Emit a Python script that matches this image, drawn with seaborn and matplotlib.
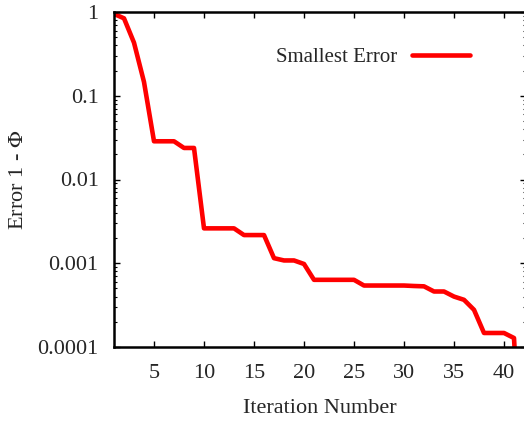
import matplotlib
matplotlib.use("Agg")
import matplotlib.pyplot as plt
import matplotlib.ticker as mticker
import seaborn as sns
import pandas as pd
import numpy as np

iterations = list(range(1, 43))
smallest_error = [0.95, 0.84, 0.43, 0.146, 0.0286, 0.0286, 0.0286, 0.0238, 0.0238,
                  0.00261, 0.00261, 0.00261, 0.00261, 0.00217, 0.00217, 0.00217,
                  0.00115, 0.00108, 0.00108, 0.00098, 0.000634, 0.000634, 0.000634,
                  0.000634, 0.000634, 0.000542, 0.000542, 0.000542, 0.000542,
                  0.000542, 0.000535, 0.00053, 0.00046, 0.00046, 0.0004, 0.000366,
                  0.000278, 0.000147, 0.000147, 0.000147, 0.000128, 0.000001]
series_name = "Smallest Error"
x_ticks = [5, 10, 15, 20, 25, 30, 35, 40]
y_ticks = [1e-4, 1e-3, 1e-2, 1e-1, 1]
y_tick_labels = ["0.0001", "0.001", "0.01", "0.1", "1"]

sns.set_theme(style="ticks")
plt.rcParams["font.family"] = ["Liberation Serif", "DejaVu Serif"]
plt.rcParams["mathtext.fontset"] = "stix"

df = pd.DataFrame({"Iteration": iterations, "Error": smallest_error, "Series": series_name})

fig = plt.figure(figsize=(5.24, 4.22), dpi=100)
W, H = 524, 422
ax = fig.add_axes([114 / W, 75 / H, (526 - 114) / W, 335 / H])

sns.lineplot(data=df, x="Iteration", y="Error", hue="Series", palette=["#ff0000"],
             linewidth=3.3, ax=ax, legend=True)
ax.set_yscale("log")
ax.set_xlim(1, 42.2)
ax.set_ylim(1e-4, 1)
ax.set_xticks(x_ticks)
ax.set_xticklabels([str(t) for t in x_ticks])
ax.set_yticks(y_ticks)
ax.set_yticklabels(y_tick_labels)
ax.yaxis.set_minor_locator(mticker.LogLocator(base=10, subs=np.arange(2, 10), numticks=20))
ax.yaxis.set_minor_formatter(mticker.NullFormatter())

for s in ax.spines.values():
    s.set_linewidth(1.8)
    s.set_color("black")
    s.set_visible(True)

ax.tick_params(axis="both", which="major", direction="in", length=4, width=1,
               top=True, right=True, labelsize=16, color="black")
ax.tick_params(axis="y", which="major", pad=11)
ax.tick_params(axis="x", which="major", pad=12)
ax.tick_params(axis="y", which="minor", direction="in", length=2.5, width=0.8,
               left=True, right=True, color="black")
ax.tick_params(axis="x", which="minor", bottom=False, top=False)

ax.set_xlabel("Iteration Number", fontsize=16, labelpad=12)
ax.set_ylabel("Error 1 - $\\Phi$", fontsize=16, labelpad=7)

handles, labels = ax.get_legend_handles_labels()
ax.legend(handles, labels, loc="center right", bbox_to_anchor=((470 - 114) / 412, (347 - 57) / 335),
          frameon=False, borderpad=0, borderaxespad=0, markerfirst=False,
          handlelength=2.8, handletextpad=0.7, fontsize=15)

fig.savefig("out.png", dpi=100)
